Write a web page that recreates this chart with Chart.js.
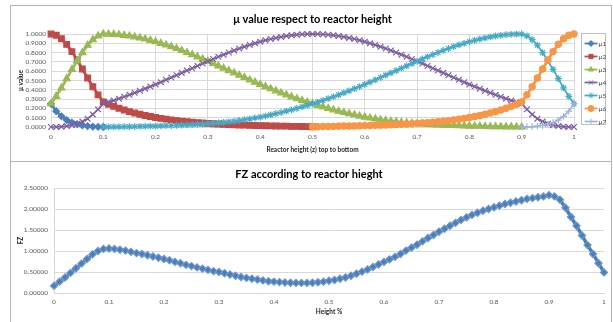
<!DOCTYPE html>
<html>
<head>
<meta charset="utf-8">
<script src="https://cdn.jsdelivr.net/npm/chart.js@4.4.1/dist/chart.umd.min.js"></script>
<style>
  html, body { margin: 0; padding: 0; background: #fff; }
  body { width: 613px; height: 322px; position: relative; overflow: hidden; }
  .frame { position: absolute; box-sizing: border-box; border: 1px solid #b4b4b4; left: 10px; width: 602px; }
  #frameTop { top: 5px; height: 157px; }
  #frameBottom { top: 161px; height: 170px; }
  canvas { position: absolute; left: 0; }
  #muChart { top: 0; }
  #fzChart { top: 161px; }
</style>
</head>
<body>
<div class="frame" id="frameTop"></div>
<div class="frame" id="frameBottom"></div>
<canvas id="muChart" width="613" height="161"></canvas>
<canvas id="fzChart" width="613" height="161"></canvas>
<script>
// Relative reactor height z (top to bottom), sampled every 0.01
const heights = [0,0.01,0.02,0.03,0.04,0.05,0.06,0.07,0.08,0.09,0.1,
  0.11,0.12,0.13,0.14,0.15,0.16,0.17,0.18,0.19,0.2,
  0.21,0.22,0.23,0.24,0.25,0.26,0.27,0.28,0.29,0.3,
  0.31,0.32,0.33,0.34,0.35,0.36,0.37,0.38,0.39,0.4,
  0.41,0.42,0.43,0.44,0.45,0.46,0.47,0.48,0.49,0.5,
  0.51,0.52,0.53,0.54,0.55,0.56,0.57,0.58,0.59,0.6,
  0.61,0.62,0.63,0.64,0.65,0.66,0.67,0.68,0.69,0.7,
  0.71,0.72,0.73,0.74,0.75,0.76,0.77,0.78,0.79,0.8,
  0.81,0.82,0.83,0.84,0.85,0.86,0.87,0.88,0.89,0.9,
  0.91,0.92,0.93,0.94,0.95,0.96,0.97,0.98,0.99,1];

// Membership values; each list starts at the height index given in muStart
const mu1 = [0.25,0.17,0.115,0.075,0.048,0.03,0.018,0.01,0.005,0.002,0];
const mu2 = [1,0.987,0.949,0.889,0.811,0.721,0.624,0.527,0.433,0.346,0.27,
  0.245,0.222,0.202,0.183,0.166,0.151,0.137,0.124,0.113,0.102,
  0.093,0.084,0.076,0.069,0.063,0.057,0.052,0.047,0.043,0.039,
  0.035,0.032,0.029,0.026,0.024,0.022,0.02,0.018,0.016,0.015,
  0.013,0.012,0.011,0.01,0.009,0.007,0.006,0.005,0.004,0.003];
const mu3 = [0.25,0.33,0.42,0.52,0.62,0.71,0.8,0.88,0.94,0.98,1,
  0.999,0.997,0.992,0.986,0.979,0.969,0.958,0.946,0.932,0.917,
  0.9,0.883,0.864,0.844,0.823,0.801,0.778,0.755,0.731,0.707,
  0.682,0.657,0.632,0.607,0.582,0.557,0.532,0.507,0.482,0.458,
  0.435,0.412,0.389,0.367,0.346,0.325,0.305,0.286,0.268,0.25,
  0.233,0.217,0.2,0.185,0.17,0.156,0.143,0.13,0.118,0.107,
  0.097,0.087,0.078,0.07,0.062,0.056,0.05,0.045,0.04,0.036,
  0.032,0.029,0.025,0.022,0.02,0.018,0.016,0.014,0.012,0.01,
  0.009,0.008,0.006,0.005,0.004,0.003,0.002,0.002,0.001,0];
const mu4 = [0,0.001,0.004,0.01,0.02,0.035,0.058,0.09,0.135,0.19,0.25,
  0.268,0.286,0.305,0.325,0.346,0.367,0.389,0.412,0.435,0.458,
  0.482,0.507,0.532,0.557,0.582,0.607,0.632,0.657,0.682,0.707,
  0.731,0.755,0.778,0.801,0.823,0.844,0.864,0.883,0.9,0.917,
  0.932,0.946,0.958,0.969,0.979,0.986,0.992,0.997,0.999,1,
  0.999,0.997,0.992,0.986,0.979,0.969,0.958,0.946,0.932,0.917,
  0.9,0.883,0.864,0.844,0.823,0.801,0.778,0.755,0.731,0.707,
  0.682,0.657,0.632,0.607,0.582,0.557,0.532,0.507,0.482,0.458,
  0.435,0.412,0.389,0.367,0.346,0.325,0.305,0.286,0.268,0.25,
  0.19,0.135,0.09,0.058,0.035,0.02,0.01,0.004,0.001,0];
const mu5 = [0,0.001,0.002,0.002,0.003,0.004,0.005,0.006,0.008,0.009,
  0.01,0.012,0.014,0.016,0.018,0.02,0.022,0.025,0.029,0.032,
  0.036,0.04,0.045,0.05,0.056,0.062,0.07,0.078,0.087,0.097,
  0.107,0.118,0.13,0.143,0.156,0.17,0.185,0.2,0.217,0.233,
  0.25,
  0.268,0.286,0.305,0.325,0.346,0.367,0.389,0.412,0.435,0.458,
  0.482,0.507,0.532,0.557,0.582,0.607,0.632,0.657,0.682,0.707,
  0.731,0.755,0.778,0.801,0.823,0.844,0.864,0.883,0.9,0.917,
  0.932,0.946,0.958,0.969,0.979,0.986,0.992,0.997,0.999,1,
  0.98,0.94,0.88,0.8,0.71,0.62,0.52,0.42,0.33,0.25];
const mu6 = [0.003,0.004,0.005,0.006,0.007,0.009,0.01,0.011,0.012,0.013,
  0.015,0.016,0.018,0.02,0.022,0.024,0.026,0.029,0.032,0.035,
  0.039,0.043,0.047,0.052,0.057,0.063,0.069,0.076,0.084,0.093,
  0.102,0.113,0.124,0.137,0.151,0.166,0.183,0.202,0.222,0.245,
  0.27,
  0.346,0.433,0.527,0.624,0.721,0.811,0.889,0.949,0.987,1];
const mu7 = [0,0.002,0.005,0.01,0.018,0.03,0.048,0.075,0.115,0.17,0.25];
const muNames = ['μ1','μ2','μ3','μ4','μ5','μ6','μ7'];
const muStart = [0, 0, 0, 0, 10, 50, 90];

// FZ along the reactor height
const fz = [0.17,0.27,0.37,0.48,0.59,0.7,0.81,0.92,1,1.05,1.06,
  1.05,1.03,1.01,0.98,0.95,0.93,0.9,0.87,0.84,0.81,
  0.78,0.74,0.71,0.67,0.64,0.61,0.58,0.55,0.52,0.5,
  0.47,0.44,0.41,0.38,0.36,0.34,0.32,0.3,0.28,0.27,
  0.26,0.25,0.245,0.24,0.24,0.24,0.245,0.255,0.27,0.29,
  0.31,0.34,0.37,0.41,0.46,0.51,0.56,0.62,0.68,0.74,
  0.8,0.86,0.93,1.01,1.08,1.15,1.23,1.31,1.38,1.46,
  1.53,1.6,1.67,1.74,1.8,1.86,1.91,1.96,2,2.04,
  2.08,2.12,2.15,2.18,2.21,2.24,2.26,2.28,2.3,2.33,
  2.3,2.22,2.03,1.81,1.6,1.37,1.14,0.93,0.71,0.49];

// Tick labels
const xTickLabels = ['0','0.1','0.2','0.3','0.4','0.5','0.6','0.7','0.8','0.9','1'];
const muTickLabels = ['0.0000','0.1000','0.2000','0.3000','0.4000','0.5000','0.6000','0.7000','0.8000','0.9000','1.0000'];
const fzTickLabels = ['0.00000','0.50000','1.00000','1.50000','2.00000','2.50000'];

// ---- styling ----
const FONT = 'Lato, "Open Sans", "DejaVu Sans", sans-serif';
const TICK_COLOR = '#595959';
const GRID_COLOR = '#d9d9d9';
const muColors = ['#4a7ebb', '#be4b48', '#98b954', '#7d60a0', '#46aac5', '#f79646', '#9cb6dc'];
const muMarkers = ['rectRot', 'rect', 'triangle', 'crossRot', 'star', 'circle', 'cross'];
const muMarkerSize = [3.3, 4, 4, 4, 3.4, 3.1, 3.3];
const muLineWidth = [2.75, 2.75, 2.75, 1.75, 1.75, 2.75, 1.75];

const toPoints = (values, start) => values.map((v, i) => ({ x: heights[start + i], y: v }));
const muValues = [mu1, mu2, mu3, mu4, mu5, mu6, mu7];

const muDatasets = muValues.map((vals, i) => ({
  label: muNames[i],
  data: toPoints(vals, muStart[i]),
  borderColor: muColors[i],
  backgroundColor: muColors[i],
  borderWidth: muLineWidth[i],
  pointStyle: muMarkers[i],
  pointRadius: muMarkerSize[i],
  pointBorderWidth: 1.2,
  pointBackgroundColor: muColors[i],
  pointBorderColor: muColors[i],
  tension: 0,
  clip: false,
  order: muValues.length - 1 - i
}));

// Framed legend at the right of the μ chart: a short line with its marker, then the name
const boxedLegend = {
  id: 'boxedLegend',
  afterDraw(chart) {
    const ctx = chart.ctx;
    ctx.save();
    ctx.strokeStyle = '#bfbfbf';
    ctx.lineWidth = 1;
    ctx.strokeRect(581.5, 33.5, 24, 91);
    chart.data.datasets.forEach((ds, i) => {
      const y = 43.5 + 13 * i;
      ctx.strokeStyle = ds.borderColor;
      ctx.lineWidth = 1.75;
      ctx.beginPath();
      ctx.moveTo(584.5, y);
      ctx.lineTo(597.5, y);
      ctx.stroke();
      ctx.fillStyle = ds.pointBackgroundColor;
      ctx.strokeStyle = ds.pointBorderColor;
      ctx.lineWidth = 1;
      Chart.helpers.drawPoint(ctx, { pointStyle: ds.pointStyle, radius: 3, rotation: 0, borderWidth: 1 }, 591, y);
      ctx.fillStyle = '#404040';
      ctx.font = '6.5px ' + FONT;
      ctx.textBaseline = 'middle';
      ctx.textAlign = 'left';
      ctx.fillText(ds.label, 598.5, y);
    });
    ctx.restore();
  }
};

const tickFont = { family: FONT, size: 6.5 };
const axisTitleFont = { family: FONT, size: 6.5, weight: 'bold' };
const chartTitleFont = { family: FONT, size: 11, weight: 'bold' };

new Chart(document.getElementById('muChart'), {
  type: 'line',
  data: { datasets: muDatasets },
  plugins: [boxedLegend],
  options: {
    responsive: false,
    animation: false,
    devicePixelRatio: 1,
    events: [],
    layout: { padding: { left: 12, right: 39, top: 0, bottom: 4 } },
    plugins: {
      legend: { display: false },
      tooltip: { enabled: false },
      title: {
        display: true,
        text: 'μ value respect to reactor height',
        fullSize: false,
        color: '#000',
        font: chartTitleFont,
        padding: { top: 12.4, bottom: 8.4 }
      }
    },
    scales: {
      x: {
        type: 'linear', min: 0, max: 1,
        ticks: { stepSize: 0.1, autoSkip: false, maxRotation: 0, padding: 6, color: TICK_COLOR, font: tickFont,
                 callback: v => xTickLabels[Math.round(v * 10)] },
        grid: { color: GRID_COLOR, drawTicks: false },
        border: { color: GRID_COLOR },
        title: { display: true, text: 'Reactor height (z) top to bottom', color: '#262626', font: axisTitleFont, padding: { top: 0, bottom: 3.4 } },
        afterFit: s => { s.height = 30; }
      },
      y: {
        type: 'linear', min: 0, max: 1,
        ticks: { stepSize: 0.1, autoSkip: false, padding: 5, color: TICK_COLOR, font: tickFont,
                 callback: v => muTickLabels[Math.round(v * 10)] },
        grid: { color: GRID_COLOR, drawTicks: false },
        border: { color: GRID_COLOR },
        title: { display: true, text: 'μ value', color: '#262626', font: axisTitleFont, padding: { top: 5.4, bottom: 0 } },
        afterFit: s => { s.width = 39; }
      }
    }
  }
});

new Chart(document.getElementById('fzChart'), {
  type: 'line',
  data: {
    datasets: [{
      label: 'FZ',
      data: toPoints(fz, 0),
      borderColor: '#4a7ebb',
      backgroundColor: '#4a7ebb',
      borderWidth: 3.5,
      pointStyle: 'rectRot',
      pointRadius: 3.6,
      pointBorderWidth: 1.2,
      pointBackgroundColor: '#4a7ebb',
      pointBorderColor: '#6f97c9',
      tension: 0,
      clip: false
    }]
  },
  options: {
    responsive: false,
    animation: false,
    devicePixelRatio: 1,
    events: [],
    layout: { padding: { left: 14, right: 9, top: 0, bottom: 0 } },
    plugins: {
      legend: { display: false },
      tooltip: { enabled: false },
      title: {
        display: true,
        text: 'FZ according to reactor hieght',
        color: '#000',
        font: chartTitleFont,
        padding: { top: 6.4, bottom: 7.4 }
      }
    },
    scales: {
      x: {
        type: 'linear', min: 0, max: 1,
        ticks: { stepSize: 0.1, autoSkip: false, maxRotation: 0, padding: 5, color: TICK_COLOR, font: tickFont,
                 callback: v => xTickLabels[Math.round(v * 10)] },
        grid: { display: false, drawTicks: false },
        border: { color: GRID_COLOR },
        title: { display: true, text: 'Height %', color: '#262626', font: axisTitleFont, padding: { top: 0, bottom: 6.4 } },
        afterFit: s => { s.height = 29; }
      },
      y: {
        type: 'linear', min: 0, max: 2.5,
        ticks: { stepSize: 0.5, autoSkip: false, padding: 6, color: TICK_COLOR, font: tickFont,
                 callback: v => fzTickLabels[Math.round(v * 2)] },
        grid: { color: GRID_COLOR, drawTicks: false },
        border: { color: GRID_COLOR },
        title: { display: true, text: 'FZ', color: '#262626', font: axisTitleFont, padding: { top: 3.4, bottom: 0 } },
        afterFit: s => { s.width = 40; }
      }
    }
  }
});
</script>
</body>
</html>
